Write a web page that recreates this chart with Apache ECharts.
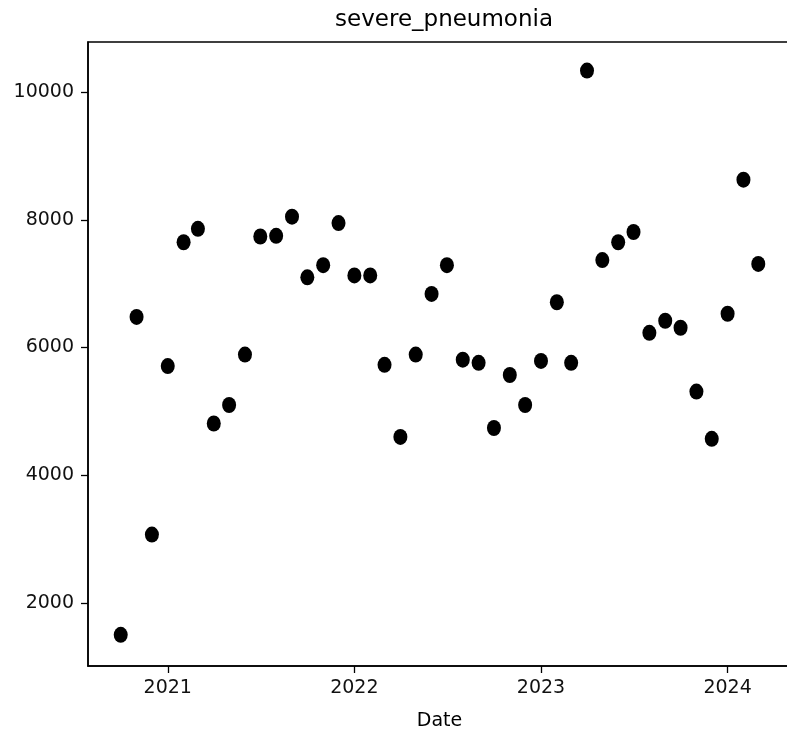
<!DOCTYPE html>
<html>
<head>
<meta charset="utf-8">
<script src="https://cdn.jsdelivr.net/npm/echarts@6/dist/echarts.min.js"></script>
<style>
  html, body { margin: 0; padding: 0; background: #fff; }
  #chart { width: 787px; height: 737px; }
</style>
</head>
<body>
<div id="chart"></div>
<script>
// monthly dates (first of month)
const dates = [
    '2020-10-01', '2020-11-01', '2020-12-01',
    '2021-01-01', '2021-02-01', '2021-03-01', '2021-04-01', '2021-05-01', '2021-06-01',
    '2021-07-01', '2021-08-01', '2021-09-01', '2021-10-01', '2021-11-01', '2021-12-01',
    '2022-01-01', '2022-02-01', '2022-03-01', '2022-04-01', '2022-05-01', '2022-06-01',
    '2022-07-01', '2022-08-01', '2022-09-01', '2022-10-01', '2022-11-01', '2022-12-01',
    '2023-01-01', '2023-02-01', '2023-03-01', '2023-04-01', '2023-05-01', '2023-06-01',
    '2023-07-01', '2023-08-01', '2023-09-01', '2023-10-01', '2023-11-01', '2023-12-01',
    '2024-01-01', '2024-02-01', '2024-03-01'
];

// severe_pneumonia values
const cases = [
    1500, 6480, 3070,
    5710, 7650, 7860, 4810, 5100, 5890,
    7740, 7750, 8050, 7100, 7290, 7950,
    7130, 7130, 5730, 4600, 5890, 6840,
    7290, 5810, 5760, 4740, 5570, 5100,
    5790, 6710, 5760, 10340, 7370, 7650,
    7810, 6230, 6420, 6310, 5310, 4570,
    6530, 8630, 7310
];

// tick labels
const xTicks = ['2021-01-01', '2022-01-01', '2023-01-01', '2024-01-01'];
const yTicks = [2000, 4000, 6000, 8000, 10000];

const chartDom = document.getElementById('chart');
const chart = echarts.init(chartDom, null, { renderer: 'canvas' });

const font = 'DejaVu Sans';
// ISO date strings parse as UTC
const toTime = (d) => Date.parse(d);
const xTickValues = xTicks.map(toTime);

const option = {
    animation: false,
    backgroundColor: '#fff',
    textStyle: { fontFamily: font },
    title: {
        text: 'severe_pneumonia',
        left: 439,
        top: 4,
        textAlign: 'center',
        textStyle: {
            fontFamily: font,
            fontSize: 23,
            fontWeight: 'normal',
            color: '#000',
        },
    },
    grid: {
        left: 88,
        top: 42,
        width: 703, // right spine falls just outside the picture
        bottom: 71,
        containLabel: false,
        outerBoundsMode: 'none',
        show: true,
        borderColor: '#000',
        borderWidth: 1.5,
        backgroundColor: 'transparent',
    },
    xAxis: {
        type: 'value',
        scale: true,
        min: toTime('2020-07-29'),
        max: toTime('2024-05-04'),
        name: 'Date',
        nameLocation: 'middle',
        nameGap: 46,
        nameTextStyle: { fontFamily: font, fontSize: 19, color: '#000' },
        axisLine: { show: true, lineStyle: { color: '#000', width: 1.5 } },
        axisTick: {
            show: true,
            length: 7,
            customValues: xTickValues,
            lineStyle: { color: '#000', width: 1.3 },
        },
        axisLabel: {
            customValues: xTickValues,
            fontFamily: font,
            fontSize: 19,
            color: '#111',
            margin: 13,
            formatter: (value) => String(new Date(value).getUTCFullYear()),
        },
        splitLine: { show: false },
    },
    yAxis: {
        type: 'value',
        min: 1011,
        max: 10787,
        axisLine: { show: true, lineStyle: { color: '#000', width: 1.5 } },
        axisTick: {
            show: true,
            length: 7,
            customValues: yTicks,
            lineStyle: { color: '#000', width: 1.3 },
        },
        axisLabel: {
            customValues: yTicks,
            fontFamily: font,
            fontSize: 19,
            color: '#111',
            margin: 14,
            formatter: (value) => String(value),
        },
        splitLine: { show: false },
    },
    series: [
        {
            name: 'severe_pneumonia',
            type: 'scatter',
            data: dates.map((d, i) => [toTime(d), cases[i]]),
            symbol: 'circle',
            symbolSize: [14, 16],
            itemStyle: { color: '#000', opacity: 1 },
            emphasis: { disabled: true },
        },
    ],
};

chart.setOption(option);
</script>
</body>
</html>
